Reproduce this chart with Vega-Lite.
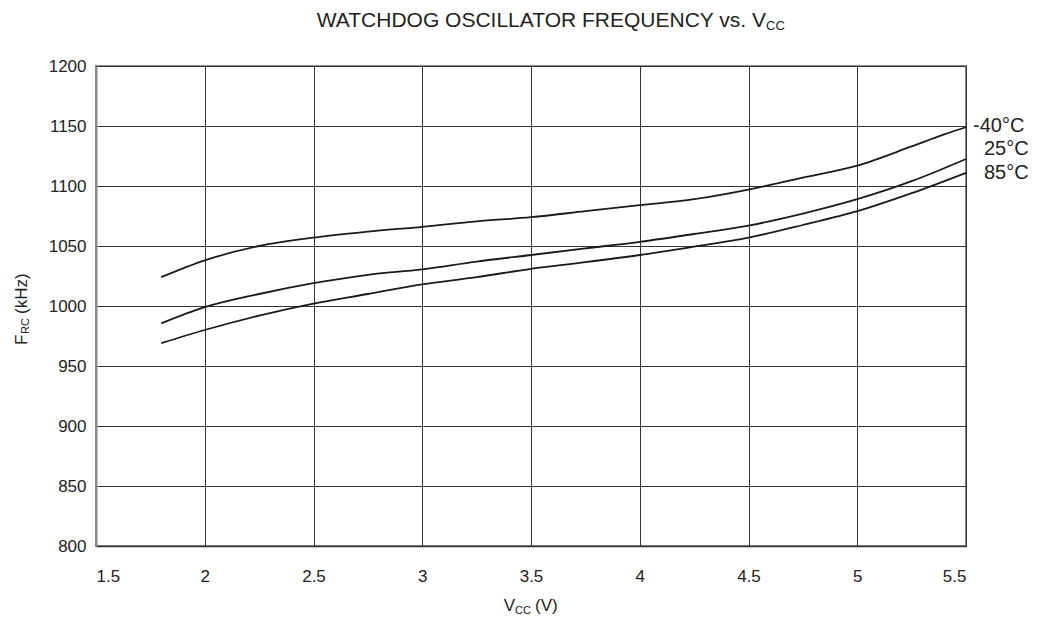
{
  "$schema": "https://vega.github.io/schema/vega-lite/v6.json",
  "width": 870,
  "height": 480,
  "autosize": {"type": "none"},
  "padding": {"left": 96, "top": 66, "right": 77, "bottom": 83},
  "background": "white",
  "config": {
    "font": "Liberation Sans",
    "view": {"stroke": "#8a8a8a", "strokeWidth": 2},
    "axis": {"labelFont": "Liberation Sans", "labelColor": "#222", "labelFontSize": 17, "ticks": false, "gridColor": "#333", "gridWidth": 1, "gridOpacity": 1, "title": null}
  },
  "layer": [
    {
      "data": {"values": [
        {"temp": "-40°C", "v": 1.8, "f": 1024},
        {"temp": "-40°C", "v": 2.0, "f": 1038},
        {"temp": "-40°C", "v": 2.25, "f": 1050},
        {"temp": "-40°C", "v": 2.5, "f": 1057},
        {"temp": "-40°C", "v": 2.75, "f": 1062},
        {"temp": "-40°C", "v": 3.0, "f": 1066},
        {"temp": "-40°C", "v": 3.25, "f": 1070.5},
        {"temp": "-40°C", "v": 3.5, "f": 1074},
        {"temp": "-40°C", "v": 3.75, "f": 1079},
        {"temp": "-40°C", "v": 4.0, "f": 1084},
        {"temp": "-40°C", "v": 4.25, "f": 1089},
        {"temp": "-40°C", "v": 4.5, "f": 1097},
        {"temp": "-40°C", "v": 4.75, "f": 1107},
        {"temp": "-40°C", "v": 5.0, "f": 1117},
        {"temp": "-40°C", "v": 5.25, "f": 1133},
        {"temp": "-40°C", "v": 5.4, "f": 1143},
        {"temp": "-40°C", "v": 5.5, "f": 1149},
        {"temp": "25°C", "v": 1.8, "f": 985.5},
        {"temp": "25°C", "v": 2.0, "f": 999},
        {"temp": "25°C", "v": 2.25, "f": 1010},
        {"temp": "25°C", "v": 2.5, "f": 1019},
        {"temp": "25°C", "v": 2.75, "f": 1026},
        {"temp": "25°C", "v": 3.0, "f": 1030.5},
        {"temp": "25°C", "v": 3.25, "f": 1037},
        {"temp": "25°C", "v": 3.5, "f": 1042.5},
        {"temp": "25°C", "v": 3.75, "f": 1048},
        {"temp": "25°C", "v": 4.0, "f": 1053.5},
        {"temp": "25°C", "v": 4.25, "f": 1060},
        {"temp": "25°C", "v": 4.5, "f": 1067},
        {"temp": "25°C", "v": 4.75, "f": 1077},
        {"temp": "25°C", "v": 5.0, "f": 1089},
        {"temp": "25°C", "v": 5.25, "f": 1104},
        {"temp": "25°C", "v": 5.5, "f": 1122.5},
        {"temp": "85°C", "v": 1.8, "f": 969},
        {"temp": "85°C", "v": 2.0, "f": 980},
        {"temp": "85°C", "v": 2.25, "f": 992},
        {"temp": "85°C", "v": 2.5, "f": 1002},
        {"temp": "85°C", "v": 2.75, "f": 1010},
        {"temp": "85°C", "v": 3.0, "f": 1018},
        {"temp": "85°C", "v": 3.25, "f": 1024},
        {"temp": "85°C", "v": 3.5, "f": 1031},
        {"temp": "85°C", "v": 3.75, "f": 1036.5},
        {"temp": "85°C", "v": 4.0, "f": 1042.5},
        {"temp": "85°C", "v": 4.25, "f": 1049.5},
        {"temp": "85°C", "v": 4.5, "f": 1057},
        {"temp": "85°C", "v": 4.75, "f": 1067.5},
        {"temp": "85°C", "v": 5.0, "f": 1079},
        {"temp": "85°C", "v": 5.25, "f": 1094},
        {"temp": "85°C", "v": 5.5, "f": 1111}
      ]},
      "mark": {"type": "line", "interpolate": "monotone", "strokeWidth": 1.8, "color": "#1a1a1a"},
      "encoding": {
        "x": {"field": "v", "type": "quantitative",
              "scale": {"domain": [1.5, 5.5], "nice": false, "zero": false},
              "axis": {"values": [1.5, 2, 2.5, 3, 3.5, 4, 4.5, 5, 5.5], "format": "~g", "labelPadding": 22, "domainColor": "#333", "domainWidth": 1.5}},
        "y": {"field": "f", "type": "quantitative",
              "scale": {"domain": [800, 1200], "nice": false, "zero": false},
              "axis": {"values": [800, 850, 900, 950, 1000, 1050, 1100, 1150, 1200], "format": "d", "labelPadding": 10, "domainColor": "#8a8a8a", "domainWidth": 2}},
        "detail": {"field": "temp", "type": "nominal"}
      }
    },
    {
      "data": {"values": [{}]},
      "mark": {"type": "text", "text": "-40°C", "fontSize": 20, "align": "left", "baseline": "middle", "dx": 7, "color": "#222"},
      "encoding": {"x": {"datum": 5.5, "type": "quantitative"}, "y": {"datum": 1150, "type": "quantitative"}}
    },
    {
      "data": {"values": [{}]},
      "mark": {"type": "text", "text": "25°C", "fontSize": 20, "align": "left", "baseline": "middle", "dx": 18, "color": "#222"},
      "encoding": {"x": {"datum": 5.5, "type": "quantitative"}, "y": {"datum": 1130.5, "type": "quantitative"}}
    },
    {
      "data": {"values": [{}]},
      "mark": {"type": "text", "text": "85°C", "fontSize": 20, "align": "left", "baseline": "middle", "dx": 18, "color": "#222"},
      "encoding": {"x": {"datum": 5.5, "type": "quantitative"}, "y": {"datum": 1111, "type": "quantitative"}}
    },
    {
      "data": {"values": [{}]},
      "mark": {"type": "text", "text": "WATCHDOG OSCILLATOR FREQUENCY vs. V", "fontSize": 21, "align": "right", "baseline": "alphabetic", "color": "#222"},
      "encoding": {"x": {"datum": 4.5805, "type": "quantitative"}, "y": {"datum": 1232.5, "type": "quantitative"}}
    },
    {
      "data": {"values": [{}]},
      "mark": {"type": "text", "text": "CC", "fontSize": 13, "align": "left", "baseline": "alphabetic", "color": "#222"},
      "encoding": {"x": {"datum": 4.5805, "type": "quantitative"}, "y": {"datum": 1230, "type": "quantitative"}}
    },
    {
      "data": {"values": [{}]},
      "mark": {"type": "text", "text": "V", "fontSize": 17, "align": "right", "baseline": "alphabetic", "color": "#222"},
      "encoding": {"x": {"datum": 3.4264, "type": "quantitative"}, "y": {"datum": 745.8, "type": "quantitative"}}
    },
    {
      "data": {"values": [{}]},
      "mark": {"type": "text", "text": "CC", "fontSize": 11, "align": "left", "baseline": "alphabetic", "color": "#222"},
      "encoding": {"x": {"datum": 3.4264, "type": "quantitative"}, "y": {"datum": 743.3, "type": "quantitative"}}
    },
    {
      "data": {"values": [{}]},
      "mark": {"type": "text", "text": "(V)", "fontSize": 17, "align": "left", "baseline": "alphabetic", "color": "#222", "dx": 20},
      "encoding": {"x": {"datum": 3.4264, "type": "quantitative"}, "y": {"datum": 745.8, "type": "quantitative"}}
    },
    {
      "data": {"values": [{}]},
      "mark": {"type": "text", "text": "F", "fontSize": 17, "angle": 270, "align": "left", "baseline": "alphabetic", "color": "#222"},
      "encoding": {"x": {"datum": 1.1828, "type": "quantitative"}, "y": {"datum": 967.5, "type": "quantitative"}}
    },
    {
      "data": {"values": [{}]},
      "mark": {"type": "text", "text": "RC", "fontSize": 11, "angle": 270, "align": "left", "baseline": "alphabetic", "color": "#222", "dx": 11, "dy": 2},
      "encoding": {"x": {"datum": 1.1828, "type": "quantitative"}, "y": {"datum": 967.5, "type": "quantitative"}}
    },
    {
      "data": {"values": [{}]},
      "mark": {"type": "text", "text": "(kHz)", "fontSize": 17, "angle": 270, "align": "left", "baseline": "alphabetic", "color": "#222", "dx": 31},
      "encoding": {"x": {"datum": 1.1828, "type": "quantitative"}, "y": {"datum": 967.5, "type": "quantitative"}}
    }
  ]
}
